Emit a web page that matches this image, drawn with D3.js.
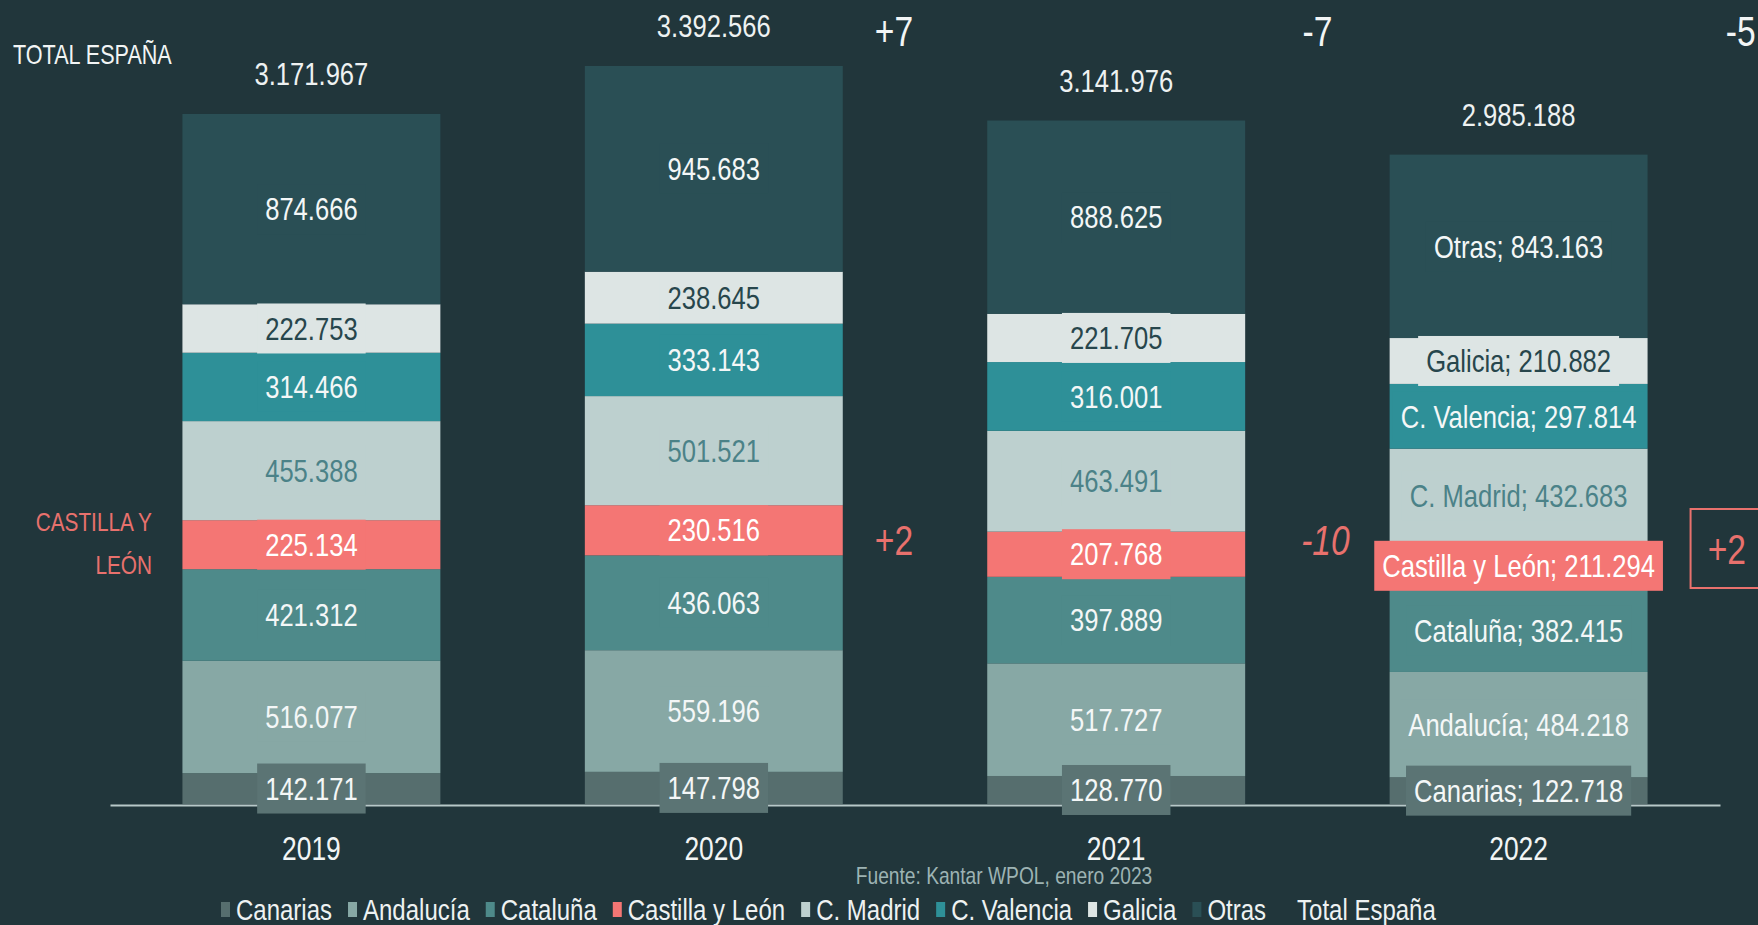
<!DOCTYPE html>
<html>
<head>
<meta charset="utf-8">
<script src="https://cdn.jsdelivr.net/npm/d3@7"></script>
<style>
  html, body { margin: 0; padding: 0; background: #21363b; overflow: hidden; }
  svg { display: block; }
</style>
</head>
<body>
<svg id="chart" width="1758" height="925"></svg>
<script>
// ---------------- DATA ----------------
const years = ["2019", "2020", "2021", "2022"];
const seriesNames = ["Canarias", "Andalucía", "Cataluña", "Castilla y León", "C. Madrid", "C. Valencia", "Galicia", "Otras"];
const canarias     = [142171, 147798, 128770, 122718];
const andalucia    = [516077, 559196, 517727, 484218];
const cataluna     = [421312, 436063, 397889, 382415];
const castillaLeon = [225134, 230516, 207768, 211294];
const cMadrid      = [455388, 501521, 463491, 432683];
const cValencia    = [314466, 333143, 316001, 297814];
const galicia      = [222753, 238645, 221705, 210882];
const otras        = [874666, 945683, 888625, 843163];
const totals       = [3171967, 3392566, 3141976, 2985188];
const totalChangeYears = ["2020", "2021", "2022"];
const totalChange  = ["+7", "-7", "-5"];
const cylChange    = ["+2", "-10", "+2"];
const legendNames  = ["Canarias", "Andalucía", "Cataluña", "Castilla y León", "C. Madrid", "C. Valencia", "Galicia", "Otras", "Total España"];

// ---------------- STYLE ----------------
const FONT = "'Liberation Sans Narrow','Arial Narrow','Liberation Sans',Arial,sans-serif";
const SX = 0.8; // horizontal condensing of the text
const BG = "#21363b";
const colors = {
  "Canarias": "#566e6e",
  "Andalucía": "#87a8a5",
  "Cataluña": "#4e8a8a",
  "Castilla y León": "#f47674",
  "C. Madrid": "#bdd0cf",
  "C. Valencia": "#2e9098",
  "Galicia": "#dde5e4",
  "Otras": "#2a4f55",
  "Total España": "none"
};
const boxColors = Object.assign({}, colors, { "Canarias": "#5b7474" });
const textColors = {
  "Canarias": "#f4f7f7", "Andalucía": "#f4f7f7", "Cataluña": "#f4f7f7",
  "Castilla y León": "#ffffff", "C. Madrid": "#4b8288", "C. Valencia": "#f4f7f7",
  "Galicia": "#27464c", "Otras": "#f4f7f7"
};
const SALMON = "#e8716d";

const seriesValues = [canarias, andalucia, cataluna, castillaLeon, cMadrid, cValencia, galicia, otras];
const rows = years.map((y, i) => {
  const r = { year: y };
  seriesNames.forEach((s, k) => r[s] = seriesValues[k][i]);
  return r;
});

const locale = d3.formatLocale({ decimal: ",", thousands: ".", grouping: [3], currency: ["", " €"] });
const fmt = locale.format(",d");

const svg = d3.select("#chart");
svg.append("rect").attr("width", 1758).attr("height", 925).attr("fill", BG);

// condensed text helper
function addText(parent, px, py, txt, o) {
  o = o || {};
  const t = parent.append("text")
    .attr("transform", `translate(${px},${py}) scale(${SX},1)`)
    .attr("dy", "0.35em")
    .attr("text-anchor", o.anchor || "middle")
    .attr("fill", o.fill || "#eef2f2")
    .style("font-family", FONT)
    .style("font-size", (o.size || 32) + "px")
    .style("font-style", o.italic ? "italic" : "normal")
    .text(txt);
  return t;
}

const x = d3.scaleBand().domain(years).range([110, 1720]).paddingInner(0.359).paddingOuter(0.18);
const y = d3.scaleLinear().domain([0, 3392566]).range([804, 66]);

const stack = d3.stack().keys(seriesNames)(rows);

// bars
const g = svg.append("g");
stack.forEach(layer => {
  g.selectAll(null).data(layer).enter().append("rect")
    .attr("x", d => x(d.data.year))
    .attr("width", x.bandwidth())
    .attr("y", d => y(d[1]))
    .attr("height", d => y(d[0]) - y(d[1]))
    .attr("fill", colors[layer.key]);
});

// axis
const axis = svg.append("g").attr("transform", "translate(0,805)")
  .call(d3.axisBottom(x).tickSize(0));
axis.select(".domain").attr("stroke", "#b7c8c8").attr("stroke-width", 2);
axis.selectAll("text")
  .attr("y", 0).attr("dy", "0.35em")
  .attr("transform", `translate(0,43) scale(${SX},1)`)
  .attr("fill", "#f2f5f5")
  .style("font-family", FONT).style("font-size", "33px");

// segment labels with boxes
const labG = svg.append("g");
stack.forEach(layer => {
  layer.forEach(d => {
    const yr = d.data.year;
    const val = d[1] - d[0];
    const txt = (yr === "2022" ? layer.key + "; " : "") + fmt(val);
    const cx = x(yr) + x.bandwidth() / 2;
    const cy = (y(d[0]) + y(d[1])) / 2;
    const grp = labG.append("g");
    const rect = grp.append("rect").attr("fill", boxColors[layer.key]);
    const t = addText(grp, cx, cy, txt, { fill: textColors[layer.key], size: 32 });
    const w = t.node().getComputedTextLength() * SX;
    rect.attr("x", cx - w / 2 - 8).attr("width", w + 16)
      .attr("y", cy - 25).attr("height", 50);
  });
});

// totals above bars
const totG = svg.append("g");
years.forEach((yr, i) => {
  addText(totG, x(yr) + x.bandwidth() / 2, y(totals[i]) - 40, fmt(totals[i]), { size: 32, fill: "#eef2f2" });
});

// total change annotations
const nudge = [-21, 0, 21];
const chG = svg.append("g");
totalChangeYears.forEach((yr, i) => {
  const cx = x(yr) + x.bandwidth() + (x.step() - x.bandwidth()) / 2 + nudge[i];
  addText(chG, cx, 31, totalChange[i], { size: 42, fill: "#f2f5f5" });
});

// Castilla y León change annotations
const cylY = [540, 540, 549];
const cylNudge = [-21, 8, 7];
totalChangeYears.forEach((yr, i) => {
  const cx = x(yr) + x.bandwidth() + (x.step() - x.bandwidth()) / 2 + cylNudge[i];
  addText(chG, cx, cylY[i], cylChange[i], { size: 42, fill: SALMON, italic: i === 1 });
});
// box around last one
svg.append("rect")
  .attr("x", x("2022") + x.bandwidth() + 43).attr("y", 509)
  .attr("width", 80).attr("height", 79)
  .attr("fill", "none").attr("stroke", SALMON).attr("stroke-width", 2);

// left labels
const leftG = svg.append("g");
addText(leftG, 13, 55, "TOTAL ESPAÑA", { anchor: "start", size: 27, fill: "#f2f5f5" });
addText(leftG, 152, 522, "CASTILLA Y", { anchor: "end", size: 26, fill: SALMON });
addText(leftG, 152, 565, "LEÓN", { anchor: "end", size: 26, fill: SALMON });

// source
addText(svg, 1004, 876, "Fuente: Kantar WPOL, enero 2023", { size: 24, fill: "#9db3b3" });

// legend
const leg = svg.append("g");
let lx = 221;
legendNames.forEach(name => {
  leg.append("rect").attr("x", lx).attr("y", 902).attr("width", 9).attr("height", 15)
    .attr("fill", colors[name]);
  const t = addText(leg, lx + 15, 909, name, { anchor: "start", size: 30, fill: "#eef2f2" });
  lx += 15 + t.node().getComputedTextLength() * SX + 16;
});
</script>
</body>
</html>
